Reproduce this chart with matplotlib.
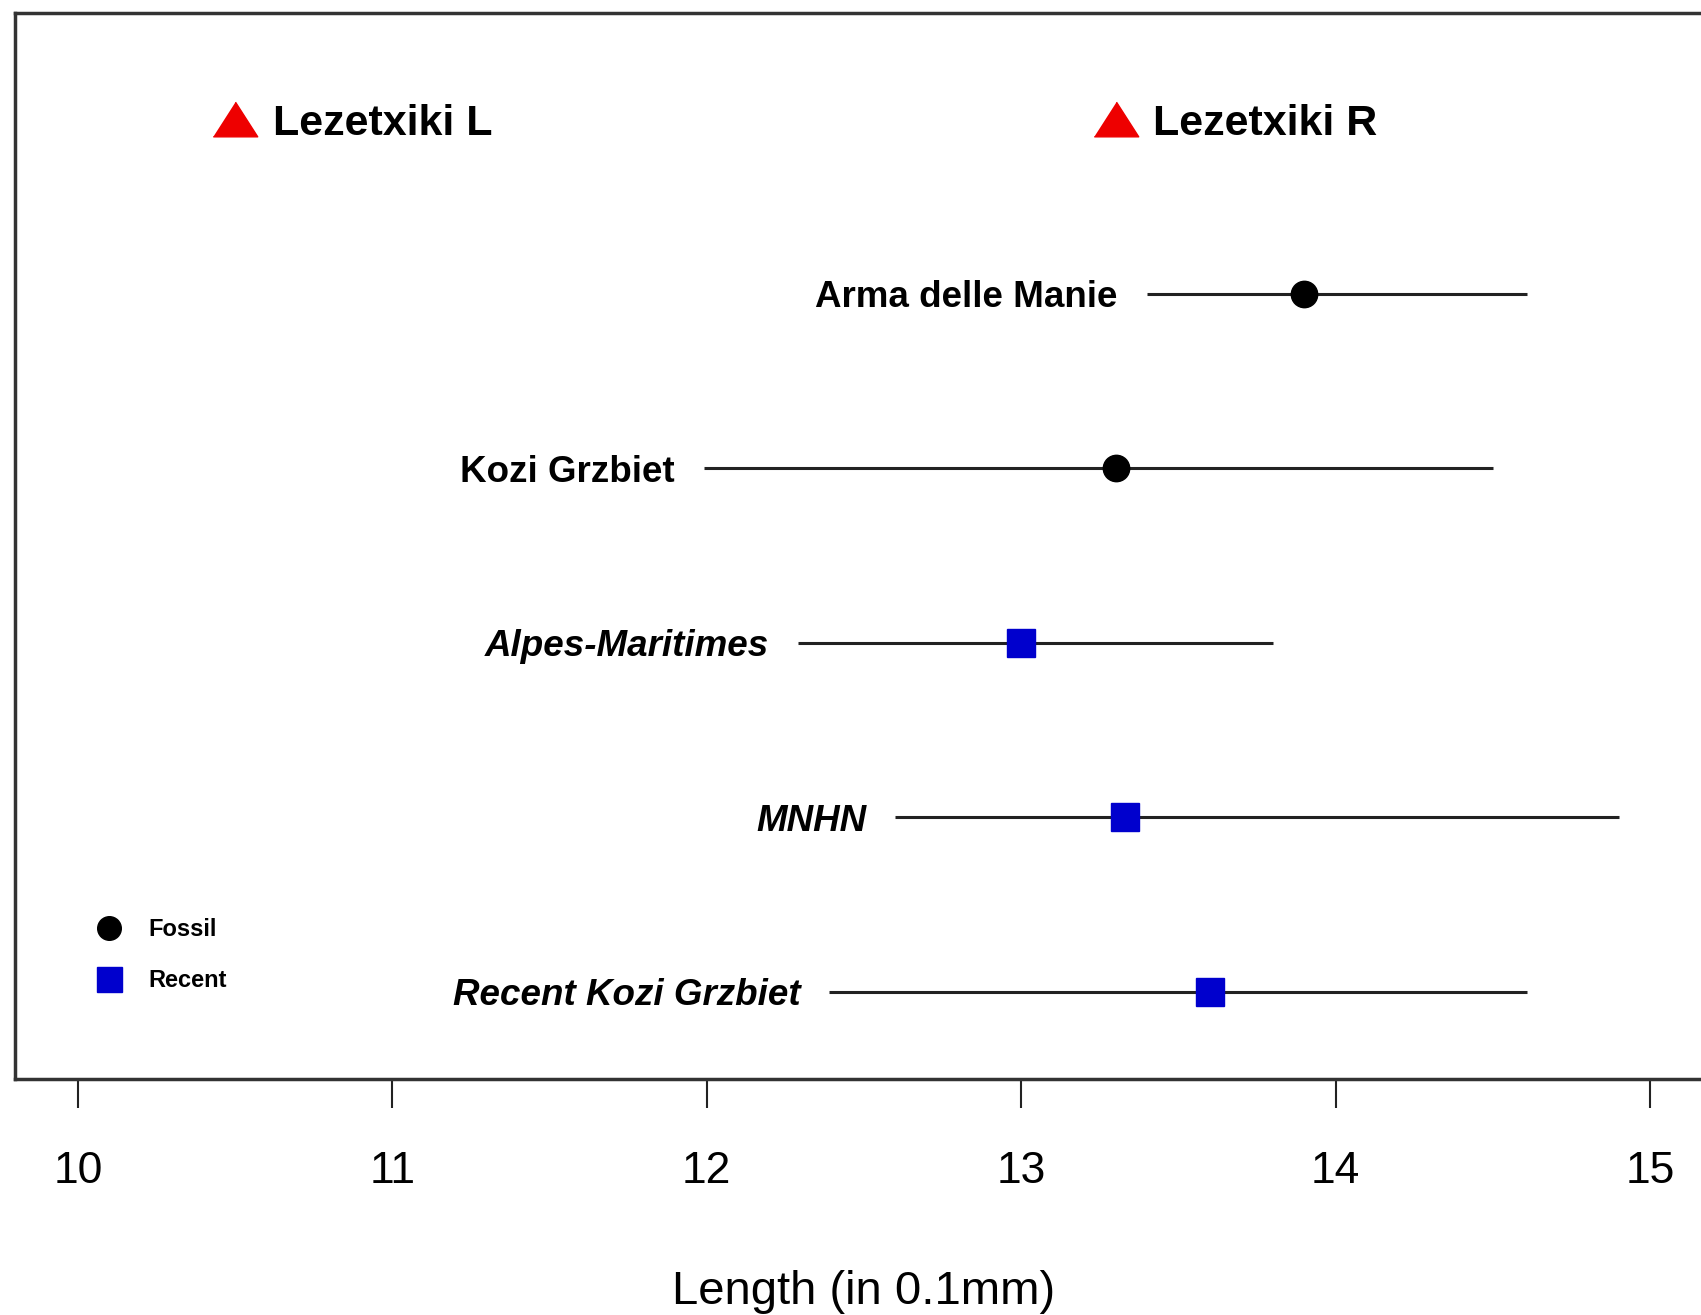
import matplotlib
matplotlib.use("Agg")
import matplotlib.pyplot as plt
from matplotlib.lines import Line2D

plt.rcParams['font.family'] = ['Liberation Sans', 'DejaVu Sans']

# populations, bottom to top
names = ["Recent Kozi Grzbiet", "MNHN", "Alpes-Maritimes", "Kozi Grzbiet", "Arma delle Manie"]
rows = [1, 2, 3, 4, 5]
means = [13.60, 13.33, 13.00, 13.30, 13.90]
lows = [12.39, 12.60, 12.29, 11.99, 13.40]
highs = [14.61, 14.90, 13.80, 14.50, 14.61]
groups = ["Recent", "Recent", "Recent", "Fossil", "Fossil"]

# Lezetxiki specimens
lez_names = ["Lezetxiki L", "Lezetxiki R"]
lez_x = [10.50, 13.30]
lez_row = 6

ticks = [10, 11, 12, 13, 14, 15]

fossil_col = "black"
recent_col = "#0000CD"
tri_col = "#EE0000"

fig = plt.figure(figsize=(17.01, 13.15), dpi=100)
ax = fig.add_axes([15 / 1701, 236 / 1315, (1713 - 15) / 1701, (1079 - 13) / 1315])

tri = [(-1, -0.78), (1, -0.78), (0, 0.78)]

for n, y, m, lo, hi, g in zip(names, rows, means, lows, highs, groups):
    ax.plot([lo, hi], [y, y], color="#222222", lw=2.2, solid_capstyle="butt", zorder=1)
    if g == "Fossil":
        ax.plot(m, y, "o", color=fossil_col, ms=19, zorder=3)
        style = "normal"
    else:
        ax.plot(m, y, "s", color=recent_col, ms=20, zorder=3)
        style = "italic"
    ax.annotate(n, (lo, y), xytext=(-21, 0), textcoords="offset points",
                ha="right", va="center_baseline", fontsize=26.5, fontweight="bold", fontstyle=style)

for n, x in zip(lez_names, lez_x):
    ax.plot(x, lez_row, marker=tri, color=tri_col, ms=32, ls="none", zorder=3)
    ax.annotate(n, (x, lez_row), xytext=(27, 0), textcoords="offset points",
                ha="left", va="center_baseline", fontsize=31, fontweight="bold")

handles = [Line2D([], [], marker="o", color=fossil_col, ls="none", ms=17),
           Line2D([], [], marker="s", color=recent_col, ls="none", ms=18)]
ax.legend(handles, ["Fossil", "Recent"], loc="center left", bbox_to_anchor=(10.06, 1.21),
          bbox_transform=ax.transData, frameon=False, handlelength=1.0, handletextpad=1.17,
          labelspacing=1.18, prop={"size": 17, "weight": "bold"}, borderaxespad=0, borderpad=0)

ax.set_xlim(9.8, 15.2)
ax.set_ylim(0.5, 6.61)
ax.set_xticks(ticks)
ax.set_xticklabels([str(t) for t in ticks])
ax.set_yticks([])
ax.tick_params(axis="x", length=21, width=1.5, pad=31, labelsize=32, color="#222222")
for s in ax.spines.values():
    s.set_linewidth(2.5)
    s.set_color("#333333")
ax.set_xlabel("Length (in 0.1mm)", fontsize=34, labelpad=56)

fig.savefig("out.png", dpi=100)
